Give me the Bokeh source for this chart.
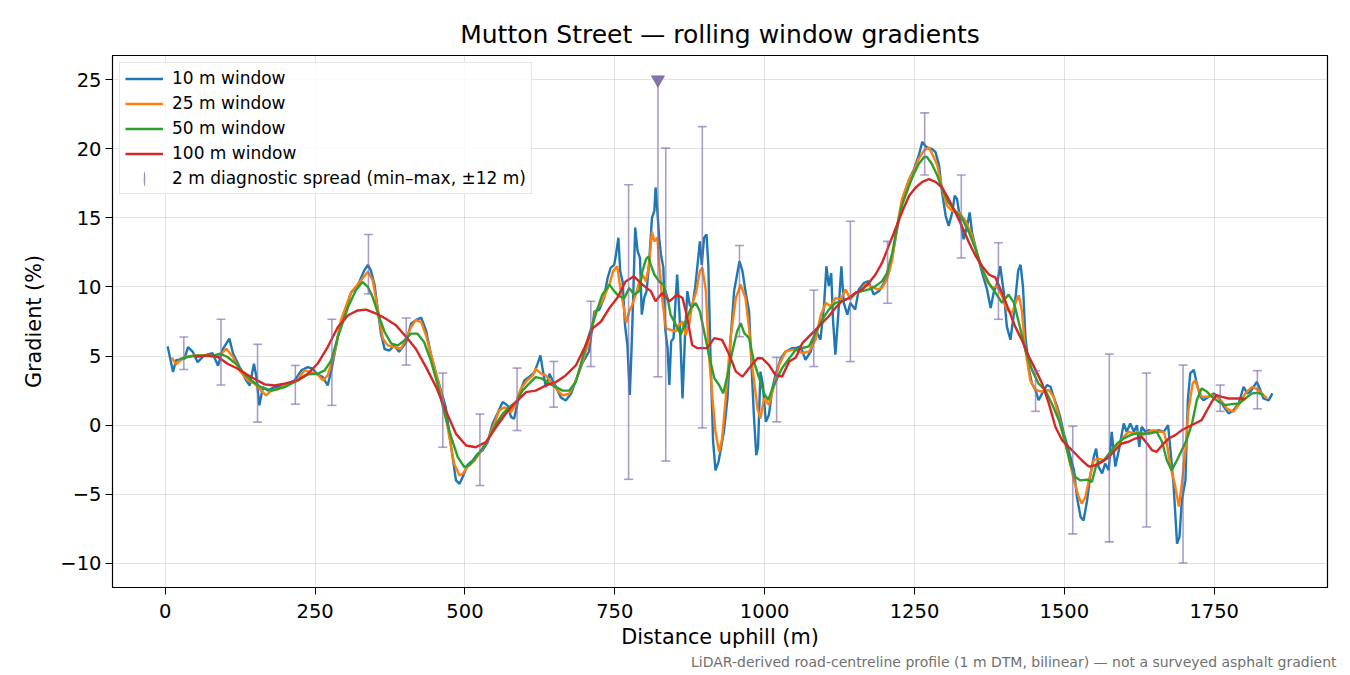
'''
Mutton Street - gradient profile, rolling windows
'''
from bokeh.plotting import figure
from bokeh.models import (Range1d, FixedTicker, CustomJSTickFormatter, Legend,
                          LegendItem, Title)
from bokeh.embed import file_html
from bokeh.resources import INLINE

# --- 10 m window (distance m, gradient %) ---
d10 = [4, 13, 18, 32, 38, 46, 54, 65, 79, 88, 96, 107, 113, 124, 135, 141, 148, 152, 157, 163,
       171, 182, 199, 216, 227, 238, 246, 254, 263, 271, 277, 288, 299, 310, 321, 332, 338, 343, 349, 354,
       360, 366, 374, 382, 390, 402, 410, 418, 427, 435, 443, 452, 460, 468, 477, 485, 491, 496, 504, 513,
       521, 529, 538, 546, 554, 563, 571, 577, 582, 591, 599, 607, 616, 621, 626, 629, 635, 641, 646, 652,
       660, 668, 677, 685, 696, 707, 716, 724, 732, 738, 743, 749, 752, 756, 759, 763, 767, 771, 775, 778,
       781, 784, 788, 792, 795, 799, 803, 807, 812, 816, 818, 821, 824, 827, 831, 834, 838, 841, 844, 848,
       851, 854, 858, 863, 867, 871, 875, 879, 884, 888, 892, 895, 899, 903, 906, 910, 914, 918, 923, 927,
       932, 938, 943, 949, 954, 958, 963, 968, 974, 978, 982, 986, 989, 993, 997, 1002, 1007, 1013, 1018, 1027,
       1035, 1046, 1052, 1060, 1068, 1077, 1085, 1093, 1099, 1103, 1107, 1111, 1114, 1118, 1123, 1128, 1132, 1138, 1143, 1151,
       1157, 1166, 1173, 1182, 1191, 1199, 1207, 1216, 1224, 1232, 1241, 1249, 1257, 1263, 1268, 1274, 1279, 1285, 1291, 1296,
       1302, 1307, 1313, 1317, 1321, 1327, 1332, 1338, 1342, 1346, 1354, 1363, 1371, 1377, 1382, 1388, 1393, 1399, 1404, 1410,
       1416, 1423, 1427, 1431, 1435, 1441, 1446, 1452, 1457, 1463, 1471, 1477, 1482, 1488, 1493, 1499, 1504, 1510, 1516, 1521,
       1527, 1532, 1538, 1543, 1549, 1553, 1557, 1563, 1568, 1574, 1579, 1585, 1591, 1596, 1599, 1604, 1610, 1616, 1621, 1625,
       1629, 1635, 1641, 1649, 1657, 1666, 1673, 1677, 1682, 1688, 1692, 1696, 1702, 1706, 1710, 1716, 1721, 1727, 1732, 1741,
       1749, 1757, 1766, 1774, 1782, 1791, 1799, 1805, 1810, 1816, 1821, 1827, 1832, 1841, 1847]
g10 = [5.7, 3.84, 4.7, 4.8, 5.65, 5.3, 4.56, 5.05, 5.2, 4.3, 5.5, 6.26, 5.2, 4.2, 3.24, 2.87, 4.44, 3.5, 1.43, 2.75,
       2.5, 2.75, 2.87, 3.24, 3.96, 4.2, 4.08, 3.67, 3.48, 2.87, 3.96, 6.4, 8.07, 9.6, 10.1, 11.2, 11.6, 11.2, 10.2, 8.55,
       6.6, 5.5, 5.4, 5.77, 5.3, 6.0, 7.34, 7.6, 7.78, 6.86, 5.17, 3.72, 2.5, 1.3, -1.6, -4.0, -4.25, -3.77, -2.9, -2.56,
       -2.08, -1.84, -1.23, 0.1, 0.82, 1.67, 1.43, 0.58, 0.46, 2.27, 3.24, 3.48, 3.84, 4.44, 5.05, 4.2, 2.75, 3.72, 3.24, 2.75,
       2.0, 1.79, 2.27, 3.24, 4.5, 5.33, 8.23, 8.35, 9.2, 10.65, 11.38, 11.6, 12.35, 13.56, 11.14, 10.4, 7.26, 5.8, 2.18, 5.57,
       9.7, 14.3, 12.6, 12.1, 8.0, 9.2, 9.7, 11.6, 15.0, 15.5, 17.2, 15.5, 13.56, 12.35, 11.4, 7.0, 5.57, 2.9, 6.05, 6.3,
       8.7, 10.9, 8.0, 1.94, 6.3, 9.7, 8.7, 8.5, 9.93, 11.6, 13.3, 11.6, 13.56, 13.8, 11.6, 4.36, -1.2, -3.27, -2.66, -1.7,
       -0.48, 1.94, 6.05, 9.7, 10.9, 11.86, 11.14, 9.7, 8.23, 4.36, 0.73, -2.18, -1.57, 3.87, 2.9, 0.24, 0.73, 2.66, 3.63, 4.84,
       5.33, 5.57, 5.58, 5.7, 4.73, 5.33, 6.9, 6.18, 8.6, 11.5, 10.06, 11.0, 7.64, 5.1, 8.12, 11.5, 8.85, 8.0, 8.85, 8.36,
       9.82, 10.3, 10.42, 9.45, 9.7, 10.3, 11.0, 12.97, 14.9, 16.6, 17.8, 18.5, 19.5, 20.5, 20.2, 20.0, 20.0, 19.76, 18.8, 16.85,
       15.15, 14.42, 15.4, 16.6, 16.36, 14.67, 13.45, 14.42, 15.4, 13.94, 12.48, 11.0, 9.82, 8.48, 9.58, 10.3, 11.5, 9.58, 7.15, 6.18,
       8.12, 11.2, 11.6, 10.0, 6.4, 4.0, 3.0, 2.54, 1.8, 2.3, 2.9, 2.78, 2.05, 1.33, 0.6, -0.6, -1.33, -2.3, -3.26, -5.2,
       -6.64, -6.9, -5.43, -3.74, -2.3, -1.7, -3.0, -3.5, -2.78, -3.26, -0.48, -3.0, -1.8, -0.6, 0.12, -0.48, 0.12, -0.48, 0.0, -1.57,
       -0.12, -0.48, -0.36, -0.48, -0.36, -0.48, 0.0, -1.8, -4.2, -8.57, -8.1, -5.43, -4.0, 1.8, 3.74, 4.0, 3.0, 2.05, 1.8, 2.05,
       2.3, 2.05, 1.33, 0.85, 1.08, 1.57, 2.78, 2.3, 2.42, 2.78, 3.14, 2.54, 1.93, 1.8, 2.3]

# --- 25 m window ---
d25 = [11, 18, 32, 49, 71, 88, 102, 113, 124, 138, 149, 160, 168, 177, 188, 204, 221, 232, 243, 254,
       263, 271, 282, 293, 310, 327, 338, 346, 354, 363, 371, 382, 393, 402, 410, 418, 427, 435, 443, 452,
       463, 474, 482, 491, 496, 504, 516, 527, 538, 549, 557, 566, 577, 585, 593, 604, 613, 618, 627, 635,
       646, 655, 663, 674, 685, 696, 707, 718, 729, 741, 747, 754, 760, 766, 769, 774, 779, 785, 791, 796,
       802, 807, 812, 816, 821, 825, 829, 835, 843, 852, 857, 863, 868, 874, 879, 886, 892, 896, 902, 907,
       913, 918, 924, 929, 935, 943, 952, 960, 968, 974, 979, 988, 993, 999, 1007, 1016, 1024, 1035, 1046, 1052,
       1063, 1074, 1085, 1093, 1102, 1110, 1118, 1127, 1135, 1143, 1152, 1160, 1168, 1177, 1188, 1196, 1204, 1213, 1221, 1229,
       1241, 1249, 1257, 1266, 1274, 1281, 1288, 1296, 1304, 1313, 1324, 1335, 1346, 1354, 1363, 1371, 1379, 1388, 1396, 1404,
       1413, 1418, 1424, 1429, 1435, 1443, 1452, 1463, 1474, 1482, 1491, 1499, 1507, 1516, 1524, 1529, 1535, 1541, 1549, 1557,
       1566, 1574, 1582, 1591, 1599, 1607, 1616, 1624, 1632, 1641, 1649, 1657, 1666, 1671, 1677, 1684, 1691, 1696, 1702, 1707,
       1714, 1718, 1724, 1729, 1738, 1746, 1754, 1763, 1771, 1782, 1791, 1802, 1813, 1824, 1832, 1838]
g25 = [4.88, 4.4, 4.93, 5.05, 5.05, 4.93, 5.53, 4.93, 3.96, 3.24, 3.0, 2.5, 2.15, 2.5, 2.6, 3.0, 3.24, 3.96, 3.84, 3.67,
       3.24, 3.6, 5.17, 7.6, 9.6, 10.5, 11.1, 10.5, 8.55, 6.26, 5.77, 5.65, 5.53, 6.26, 7.1, 7.6, 7.46, 6.5, 5.17, 3.72,
       1.79, -0.87, -2.8, -3.65, -3.53, -3.04, -2.56, -1.84, -1.1, 0.1, 1.06, 1.3, 0.94, 1.55, 2.63, 3.24, 3.6, 4.08, 3.72, 3.6,
       3.0, 2.5, 2.15, 2.27, 3.24, 4.6, 6.05, 8.23, 8.96, 10.17, 11.14, 11.5, 9.7, 8.23, 7.4, 8.23, 8.7, 9.44, 10.4, 10.9,
       10.4, 11.6, 14.0, 13.3, 13.56, 11.14, 9.2, 7.0, 6.9, 6.78, 7.26, 7.5, 6.54, 7.26, 8.7, 9.7, 11.14, 11.4, 9.7, 5.1,
       1.94, -0.48, -1.94, -0.97, 1.94, 6.3, 9.2, 10.17, 9.2, 7.0, 4.36, 1.2, 0.48, 1.94, 1.45, 2.9, 4.36, 5.33, 5.45, 5.45,
       5.2, 5.33, 6.18, 7.88, 8.85, 8.6, 9.2, 9.1, 9.82, 9.1, 9.58, 9.7, 10.18, 10.06, 9.82, 9.94, 10.55, 12.0, 14.42, 16.36,
       17.8, 18.4, 19.27, 19.88, 20.1, 19.5, 18.8, 17.1, 15.9, 15.5, 15.4, 14.8, 13.7, 12.5, 11.27, 10.4, 9.94, 10.06, 9.33, 8.36,
       8.12, 8.8, 9.4, 8.3, 5.43, 3.26, 2.54, 2.42, 2.54, 2.05, 0.6, -0.85, -2.3, -4.0, -5.2, -5.68, -5.2, -4.0, -2.54, -2.42,
       -2.54, -2.3, -1.8, -1.33, -0.85, -0.48, -0.6, -0.48, -0.72, -0.48, -0.36, -0.48, -0.48, -1.33, -3.0, -4.2, -5.9, -4.2, -1.8, 1.08,
       3.0, 3.26, 2.54, 2.05, 2.05, 2.17, 2.05, 1.7, 1.2, 0.97, 1.45, 2.3, 2.78, 2.54, 2.17, 1.93]

# --- 50 m window ---
d50 = [24, 38, 54, 77, 91, 104, 121, 132, 143, 160, 177, 199, 221, 238, 254, 266, 277, 288, 305, 318,
       329, 338, 346, 357, 366, 377, 388, 399, 410, 421, 432, 443, 454, 466, 477, 488, 499, 507, 518, 529,
       541, 552, 563, 574, 585, 596, 607, 618, 629, 641, 652, 663, 674, 685, 696, 707, 718, 729, 741, 749,
       757, 766, 774, 782, 791, 796, 802, 806, 810, 816, 824, 831, 838, 843, 852, 860, 868, 877, 885, 892,
       899, 907, 916, 924, 931, 938, 946, 954, 960, 966, 974, 982, 991, 999, 1006, 1013, 1021, 1029, 1041, 1052,
       1063, 1074, 1085, 1096, 1107, 1118, 1129, 1141, 1152, 1163, 1174, 1185, 1196, 1204, 1213, 1221, 1229, 1241, 1249, 1257,
       1266, 1271, 1279, 1288, 1296, 1307, 1318, 1329, 1341, 1352, 1363, 1374, 1385, 1396, 1407, 1416, 1427, 1435, 1446, 1457,
       1468, 1479, 1491, 1502, 1510, 1518, 1527, 1538, 1546, 1554, 1566, 1577, 1588, 1599, 1610, 1621, 1632, 1643, 1654, 1663,
       1671, 1679, 1688, 1696, 1704, 1713, 1721, 1729, 1738, 1746, 1757, 1768, 1779, 1791, 1802, 1813, 1824, 1832]
g50 = [4.8, 4.93, 5.05, 4.98, 5.17, 4.93, 4.32, 3.72, 3.24, 2.75, 2.5, 2.75, 3.24, 3.67, 3.72, 3.96, 4.69, 6.38, 8.55, 9.76,
       10.36, 10.0, 9.27, 7.82, 6.74, 5.9, 5.77, 6.13, 6.62, 6.62, 6.0, 4.69, 3.0, 0.82, -0.87, -2.32, -3.04, -2.9, -2.32, -1.7,
       -0.87, 0.1, 0.82, 1.3, 1.67, 2.5, 3.0, 3.48, 3.36, 3.0, 2.75, 2.5, 2.5, 3.12, 4.84, 6.54, 8.0, 9.44, 10.17, 9.7,
       9.32, 9.2, 9.93, 9.44, 9.7, 11.14, 12.0, 12.2, 11.6, 10.9, 10.4, 10.17, 9.2, 8.0, 7.26, 6.54, 7.5, 8.47, 8.84, 8.23,
       6.78, 5.1, 3.39, 2.9, 2.3, 3.63, 5.33, 6.78, 7.38, 6.66, 6.3, 4.6, 3.39, 2.3, 1.82, 2.66, 3.39, 4.12, 4.84, 5.45,
       5.58, 5.7, 6.67, 7.64, 8.36, 8.85, 8.97, 9.2, 9.58, 9.7, 9.82, 10.06, 10.42, 11.0, 12.48, 14.42, 15.88, 17.33, 18.2, 18.9,
       19.4, 19.4, 18.9, 18.06, 17.1, 16.1, 15.5, 15.0, 13.94, 12.73, 11.27, 10.3, 9.58, 8.85, 9.45, 8.85, 6.9, 5.43, 4.0, 3.0,
       2.54, 1.57, 0.36, -1.33, -2.78, -3.74, -4.0, -3.94, -4.1, -2.78, -2.54, -1.93, -1.33, -0.97, -0.72, -0.6, -0.6, -0.6, -0.48, -1.2,
       -2.54, -3.26, -2.54, -1.8, -1.08, 0.12, 1.8, 2.66, 2.42, 2.05, 1.7, 1.45, 1.52, 1.57, 1.93, 2.3, 2.34, 2.17]

# --- 100 m window ---
d100 = [49, 71, 88, 104, 121, 143, 166, 182, 199, 221, 238, 254, 271, 288, 305, 321, 335, 352, 368, 385,
        402, 418, 435, 452, 468, 485, 502, 518, 535, 552, 568, 585, 602, 618, 635, 652, 668, 685, 699, 713,
        727, 741, 754, 768, 782, 796, 810, 818, 829, 841, 854, 863, 871, 879, 888, 904, 916, 929, 941, 952,
        963, 974, 988, 996, 1007, 1018, 1029, 1041, 1052, 1063, 1074, 1085, 1096, 1107, 1118, 1129, 1141, 1152, 1163, 1174,
        1185, 1196, 1207, 1218, 1229, 1241, 1252, 1263, 1274, 1285, 1296, 1307, 1318, 1329, 1341, 1352, 1363, 1374, 1385, 1396,
        1407, 1418, 1429, 1441, 1452, 1463, 1474, 1485, 1496, 1507, 1518, 1529, 1541, 1552, 1563, 1574, 1585, 1596, 1607, 1618,
        1629, 1638, 1646, 1654, 1663, 1674, 1685, 1696, 1707, 1718, 1729, 1738, 1746, 1754, 1763, 1774, 1785, 1796, 1802]
g100 = [4.93, 5.05, 4.93, 4.44, 4.08, 3.48, 2.95, 2.87, 3.0, 3.24, 3.72, 4.44, 5.65, 7.1, 7.95, 8.3, 8.36, 8.07, 7.7, 7.22,
        6.38, 5.53, 4.2, 2.75, 1.06, -0.63, -1.47, -1.6, -1.23, -0.14, 0.82, 1.67, 2.39, 2.5, 2.87, 3.12, 3.6, 4.32, 5.57, 7.0,
        7.5, 8.47, 9.2, 10.4, 10.77, 10.17, 9.7, 8.96, 9.56, 8.96, 9.44, 9.2, 7.75, 5.8, 5.57, 5.57, 6.3, 6.17, 5.1, 3.87,
        3.51, 4.12, 4.84, 4.84, 4.36, 3.63, 3.51, 4.6, 4.9, 5.94, 6.42, 6.9, 7.4, 7.88, 8.48, 8.97, 9.2, 9.58, 9.82, 10.3,
        10.9, 11.76, 12.97, 14.18, 15.4, 16.6, 17.2, 17.6, 17.8, 17.6, 17.2, 16.36, 15.4, 14.42, 13.2, 12.24, 11.5, 10.9, 10.67, 9.58,
        8.36, 7.13, 6.16, 4.95, 4.0, 3.0, 1.57, -0.12, -1.08, -1.57, -2.05, -2.54, -3.0, -2.9, -2.66, -2.3, -1.8, -1.33, -1.2, -0.97,
        -0.85, -1.33, -1.8, -1.93, -1.45, -0.97, -0.72, -0.36, -0.12, 0.12, 0.36, 1.08, 1.7, 2.17, 2.05, 1.93, 1.93, 1.93, 1.86]

# --- 2 m diagnostic spread (min-max within +-12 m) ---
spread_x = [31, 93, 154, 217, 278, 339, 402, 463, 525, 587, 648, 710, 773, 835, 896, 958,
            1020, 1082, 1143, 1205, 1267, 1328, 1390, 1452, 1514, 1575, 1637, 1698, 1760, 1822]
spread_lo = [4.03, 2.9, 0.22, 1.52, 1.43, 9.5, 4.35, -1.6, -4.37, -0.39, 1.3, 4.24, -3.92, -2.6, -0.2, 6.4,
             0.24, 4.24, 4.6, 8.82, 18.1, 12.1, 7.66, 1.0, -7.87, -8.45, -7.37, -9.98, 1.0, 1.18]
spread_hi = [6.38, 7.66, 5.85, 4.32, 7.66, 13.8, 7.75, 3.77, 0.8, 4.13, 4.61, 8.96, 17.4, 20.05, 21.6, 13.0,
             4.9, 9.77, 14.76, 13.3, 22.6, 18.1, 13.2, 3.94, -0.07, 5.14, 3.77, 4.35, 2.9, 3.94]
# spread that runs off the top of the axis
clip_x = [822]
clip_lo = [3.5]
clip_top = [25.0]

FONT = "DejaVu Sans"
SPREAD = "#7f6aad"
LW = 2.4

p = figure(width=1342, height=672, output_backend="svg", toolbar_location=None,
           x_range=Range1d(-88, 1939), y_range=Range1d(-11.75, 26.75),
           min_border_left=112, min_border_right=15, min_border_top=55, min_border_bottom=85,
           background_fill_color="white", border_fill_color="white")

p.title.text = "Mutton Street \u2014 rolling window gradients"
p.title.align = "center"
p.title.text_font = FONT
p.title.text_font_size = "25px"
p.title.text_font_style = "normal"
p.title.text_color = "black"
p.title.standoff = 14

p.outline_line_color = "black"
p.outline_line_alpha = 1
p.outline_line_width = 1.2

p.xgrid.grid_line_color = "#b0b0b0"
p.ygrid.grid_line_color = "#b0b0b0"
p.xgrid.grid_line_alpha = 0.35
p.ygrid.grid_line_alpha = 0.35

p.xaxis.ticker = FixedTicker(ticks=[0, 250, 500, 750, 1000, 1250, 1500, 1750])
p.yaxis.ticker = FixedTicker(ticks=[-10, -5, 0, 5, 10, 15, 20, 25])
p.yaxis.formatter = CustomJSTickFormatter(code="return tick < 0 ? '\u2212' + Math.abs(tick) : String(tick);")
p.xaxis.axis_label = "Distance uphill (m)"
p.yaxis.axis_label = "Gradient (%)"
for ax in (p.xaxis, p.yaxis):
    ax.axis_label_text_font = FONT
    ax.axis_label_text_font_size = "20.8px"
    ax.axis_label_text_font_style = "normal"
    ax.axis_label_text_color = "black"
    ax.major_label_text_font = FONT
    ax.major_label_text_font_size = "19.5px"
    ax.major_label_text_color = "black"
    ax.axis_line_color = "black"
    ax.major_tick_line_color = "black"
    ax.major_tick_out = 7
    ax.major_tick_in = 0
    ax.minor_tick_line_color = None
p.xaxis.major_label_standoff = 9
p.xaxis.axis_label_standoff = 4
p.yaxis.major_label_standoff = 4
p.yaxis.axis_label_standoff = 11

r10 = p.line(d10, g10, color="#1f77b4", line_width=LW)
r25 = p.line(d25, g25, color="#ff7f0e", line_width=LW)
r50 = p.line(d50, g50, color="#2ca02c", line_width=LW)
r100 = p.line(d100, g100, color="#d62728", line_width=LW)

# spread bars: stems and caps
p.segment(x0=spread_x, y0=spread_lo, x1=spread_x, y1=spread_hi,
          line_color=SPREAD, line_alpha=0.65, line_width=1.6)
p.scatter(spread_x, spread_lo, marker="dash", size=9, line_color=SPREAD, line_alpha=0.65, line_width=1.6)
p.scatter(spread_x, spread_hi, marker="dash", size=9, line_color=SPREAD, line_alpha=0.65, line_width=1.6)
p.segment(x0=clip_x, y0=clip_lo, x1=clip_x, y1=clip_top,
          line_color=SPREAD, line_alpha=0.65, line_width=1.6)
p.scatter(clip_x, clip_lo, marker="dash", size=9, line_color=SPREAD, line_alpha=0.65, line_width=1.6)
p.scatter(clip_x, clip_top, marker="inverted_triangle", size=13,
          fill_color="#8574ac", line_color="#8574ac")

# legend sample for the spread bars: a thin upright ellipse reads as a vertical tick;
# nan keeps it off the plot itself
nan = float("nan")
r_sp = p.ellipse(x=[nan], y=[nan], width=1.7, height=17, width_units="screen", height_units="screen",
                 fill_color=SPREAD, fill_alpha=0.75, line_color=None)

legend = Legend(items=[
    LegendItem(label="10 m window", renderers=[r10]),
    LegendItem(label="25 m window", renderers=[r25]),
    LegendItem(label="50 m window", renderers=[r50]),
    LegendItem(label="100 m window", renderers=[r100]),
    LegendItem(label="2 m diagnostic spread (min\u2013max, \u00b112 m)", renderers=[r_sp]),
], location="top_left")
legend.label_text_font = FONT
legend.label_text_font_size = "17px"
legend.label_text_color = "black"
legend.glyph_width = 38
legend.glyph_height = 19
legend.label_height = 19
legend.label_standoff = 9
legend.spacing = 5
legend.padding = 5
legend.margin = 7
legend.border_line_color = "#cccccc"
legend.border_line_width = 1.2
legend.background_fill_alpha = 0.8
p.add_layout(legend)

note = Title(text="LiDAR-derived road-centreline profile (1 m DTM, bilinear) \u2014 not a surveyed asphalt gradient",
             align="right", text_font=FONT, text_font_size="14px", text_font_style="normal",
             text_color="#707070", standoff=0, offset=-9)
p.add_layout(note, "below")

open("out.html", "w").write(file_html(p, INLINE))
